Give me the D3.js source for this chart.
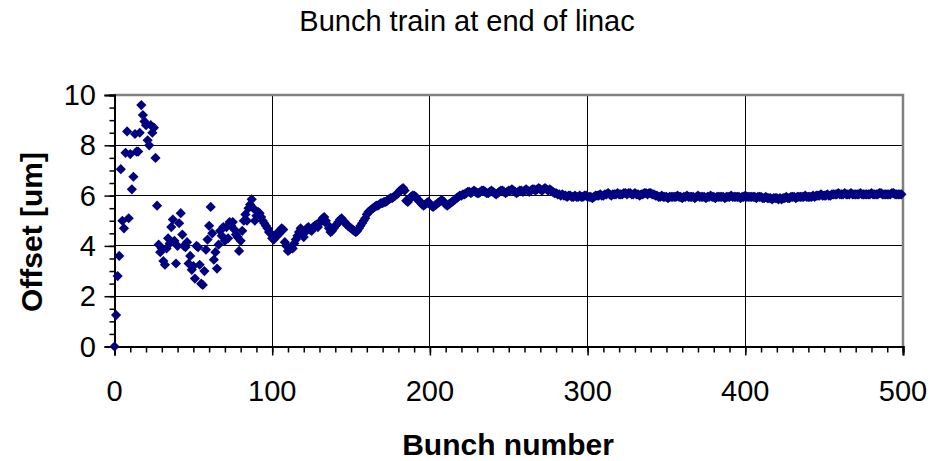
<!DOCTYPE html>
<html>
<head>
<meta charset="utf-8">
<script src="https://cdn.jsdelivr.net/npm/d3@7"></script>
<style>
  html, body { margin: 0; padding: 0; background: #fff; }
  svg { display: block; font-family: "Liberation Sans", Arial, sans-serif; }
</style>
</head>
<body>
<svg id="chart" width="933" height="461"></svg>
<script>
// Offset of each bunch (um), bunch number = array index
const offsets = [
  0, 1.25, 2.8, 3.6, 7.05, 5.0, 4.7, 7.7, 8.55, 5.1,
  7.65, 6.25, 6.75, 8.45, 7.75, 7.75, 8.5, 9.6, 9.2, 8.95,
  8.8, 8.2, 8.0, 8.8, 8.5, 8.7, 7.5, 5.6, 4.05, 3.75,
  3.9, 3.4, 3.25, 3.9, 4.3, 4.1, 4.75, 5.05, 4.2, 3.3,
  4.0, 4.9, 5.3, 4.45, 4.0, 3.95, 4.15, 3.3, 3.6, 3.05,
  3.2, 2.7, 4.0, 3.95, 3.25, 2.5, 2.45, 3.0, 3.85, 4.25,
  4.8, 5.55, 4.5, 3.45, 3.75, 3.1, 4.05, 4.6, 4.4, 4.75,
  4.2, 4.75, 4.3, 4.95, 4.8, 4.95, 4.65, 4.45, 4.35, 3.8,
  4.2, 4.6, 5.0, 5.25, 5.0, 5.5, 5.65, 5.85, 5.5, 5.0,
  5.2, 5.35, 5.3, 5.15, 5.0, 4.9, 4.8, 4.7, 4.55, 4.5,
  4.3, 4.25, 4.35, 4.5, 4.45, 4.6, 4.7, 4.65, 4.15, 4.0,
  3.8, 3.85, 3.95, 3.9, 4.1, 4.25, 4.4, 4.55, 4.7, 4.5,
  4.35, 4.55, 4.7, 4.75, 4.65, 4.6, 4.75, 4.8, 4.85, 4.75,
  4.9, 5.0, 5.1, 5.15, 5.0, 4.85, 4.7, 4.55, 4.6, 4.7,
  4.8, 4.85, 4.95, 5.05, 5.1, 5.0, 4.95, 4.85, 4.8, 4.75,
  4.7, 4.65, 4.6, 4.55, 4.6, 4.7, 4.8, 4.9, 5.0, 5.1,
  5.25, 5.35, 5.4, 5.45, 5.5, 5.55, 5.6, 5.6, 5.65, 5.7,
  5.7, 5.75, 5.75, 5.8, 5.85, 5.9, 5.9, 5.95, 6.0, 6.05,
  6.1, 6.2, 6.25, 6.3, 6.2, 5.8, 5.75, 5.85, 5.95, 6.0,
  6.0, 5.95, 5.85, 5.8, 5.75, 5.65, 5.6, 5.65, 5.7, 5.75,
  5.65, 5.6, 5.55, 5.6, 5.65, 5.7, 5.75, 5.8, 5.8, 5.75,
  5.65, 5.6, 5.65, 5.7, 5.75, 5.8, 5.85, 5.9, 5.95, 6.0,
  6.0, 6.05, 6.05, 6.1, 6.15, 6.15, 6.1, 6.15, 6.2, 6.15,
  6.1, 6.1, 6.15, 6.2, 6.2, 6.15, 6.1, 6.1, 6.15, 6.2,
  6.15, 6.1, 6.05, 6.1, 6.15, 6.2, 6.2, 6.15, 6.1, 6.15,
  6.2, 6.2, 6.25, 6.2, 6.15, 6.1, 6.15, 6.2, 6.2, 6.15,
  6.2, 6.25, 6.2, 6.15, 6.2, 6.25, 6.25, 6.2, 6.25, 6.3,
  6.25, 6.2, 6.25, 6.3, 6.25, 6.2, 6.25, 6.2, 6.15, 6.1,
  6.1, 6.05, 6.05, 6.0, 6.05, 6.0, 6.0, 5.95, 6.0, 6.0,
  5.95, 5.95, 6.0, 5.95, 5.95, 6.0, 5.95, 5.95, 6.0, 6.0,
  5.95, 5.95, 5.95, 5.9, 5.95, 6.0, 6.0, 6.0, 6.05, 6.0,
  6.0, 6.05, 6.05, 6.1, 6.05, 6.0, 6.05, 6.05, 6.05, 6.1,
  6.05, 6.05, 6.05, 6.1, 6.1, 6.05, 6.1, 6.1, 6.05, 6.05,
  6.1, 6.05, 6.05, 6.0, 6.05, 6.05, 6.1, 6.1, 6.05, 6.1,
  6.1, 6.05, 6.05, 6.0, 6.0, 5.95, 5.95, 6.0, 5.95, 5.95,
  5.95, 5.9, 5.95, 5.95, 5.95, 5.95, 5.95, 6.0, 5.95, 5.95,
  5.9, 5.95, 5.95, 6.0, 5.95, 5.95, 5.95, 5.95, 5.9, 5.95,
  6.0, 5.95, 5.95, 5.95, 5.95, 5.9, 5.95, 5.95, 6.0, 5.95,
  5.95, 5.9, 5.95, 5.95, 5.95, 5.95, 5.95, 5.9, 5.95, 5.95,
  5.95, 6.0, 5.95, 5.95, 5.95, 5.95, 5.95, 5.9, 5.95, 5.95,
  6.0, 5.95, 5.95, 5.95, 5.95, 5.95, 5.95, 5.9, 5.95, 5.95,
  5.95, 5.9, 5.9, 5.95, 5.9, 5.9, 5.9, 5.85, 5.9, 5.9,
  5.9, 5.85, 5.9, 5.85, 5.9, 5.9, 5.95, 5.9, 5.9, 5.95,
  5.95, 5.95, 5.9, 5.95, 5.95, 5.95, 5.95, 5.95, 6.0, 5.95,
  5.95, 5.95, 5.95, 6.0, 5.95, 6.0, 6.0, 6.0, 6.05, 6.0,
  6.0, 6.0, 6.05, 6.0, 6.0, 6.05, 6.05, 6.05, 6.05, 6.1,
  6.05, 6.05, 6.05, 6.1, 6.05, 6.05, 6.05, 6.1, 6.05, 6.05,
  6.05, 6.05, 6.05, 6.1, 6.05, 6.05, 6.05, 6.05, 6.05, 6.05,
  6.1, 6.05, 6.05, 6.05, 6.05, 6.1, 6.1, 6.05, 6.05, 6.05,
  6.05, 6.05, 6.05, 6.1, 6.1, 6.05, 6.05, 6.05, 6.05, 6.05
];

const xTicks = [0, 100, 200, 300, 400, 500];
const yTicks = [0, 2, 4, 6, 8, 10];
const titleText = "Bunch train at end of linac";
const xTitle = "Bunch number";
const yTitle = "Offset [um]";

const svg = d3.select("#chart");
const plot = { left: 114.5, right: 903, top: 95, bottom: 346.5 };

const x = d3.scaleLinear().domain([0, 500]).range([plot.left, plot.right]);
const y = d3.scaleLinear().domain([0, 10]).range([plot.bottom, plot.top]);

const navy = "#000080";

// Title
svg.append("text")
  .attr("x", 467).attr("y", 31)
  .attr("text-anchor", "middle")
  .attr("font-size", 29)
  .text(titleText);

// Gridlines
const grid = svg.append("g").attr("shape-rendering", "crispEdges");
grid.selectAll("line.h")
  .data(yTicks.filter(v => v > 0 && v < 10))
  .join("line")
  .attr("x1", plot.left).attr("x2", plot.right)
  .attr("y1", d => y(d)).attr("y2", d => y(d))
  .attr("stroke", "#000").attr("stroke-width", 1);
grid.selectAll("line.v")
  .data(xTicks.filter(v => v > 0 && v < 500))
  .join("line")
  .attr("y1", plot.top).attr("y2", plot.bottom)
  .attr("x1", d => x(d)).attr("x2", d => x(d))
  .attr("stroke", "#000").attr("stroke-width", 1);

// Plot area frame (top and right edges)
svg.append("path")
  .attr("d", `M${plot.left},${plot.top}H${plot.right}V${plot.bottom}`)
  .attr("fill", "none")
  .attr("stroke", "#808080")
  .attr("stroke-width", 2.5);

// Y axis with major and minor ticks
const yAxisG = svg.append("g").attr("transform", `translate(${plot.left},0)`);
yAxisG.call(d3.axisLeft(y).tickValues(d3.range(0, 10.01, 0.5)).tickSize(5).tickFormat(""));
yAxisG.append("g").call(d3.axisLeft(y).tickValues(yTicks).tickSize(10).tickFormat(""));
yAxisG.selectAll("path.domain").attr("stroke", "#000").attr("stroke-width", 2);
yAxisG.selectAll(".tick line").attr("stroke", "#000").attr("stroke-width", 1.5);

// X axis with major and minor ticks
const xAxisG = svg.append("g").attr("transform", `translate(0,${plot.bottom})`);
xAxisG.call(d3.axisBottom(x).tickValues(d3.range(0, 501, 10)).tickSize(6).tickFormat(""));
xAxisG.append("g").call(d3.axisBottom(x).tickValues(xTicks).tickSize(9).tickFormat(""));
xAxisG.selectAll("path.domain").attr("stroke", "#000").attr("stroke-width", 2);
xAxisG.selectAll(".tick line").attr("stroke", "#000").attr("stroke-width", 1.5);

// Tick labels
svg.append("g").selectAll("text")
  .data(yTicks).join("text")
  .attr("x", 96).attr("y", d => y(d) + 10)
  .attr("text-anchor", "end")
  .attr("font-size", 29)
  .text(d => d);
svg.append("g").selectAll("text")
  .data(xTicks).join("text")
  .attr("x", d => x(d)).attr("y", 401)
  .attr("text-anchor", "middle")
  .attr("font-size", 29)
  .text(d => d);

// Axis titles
svg.append("text")
  .attr("transform", `translate(41.5,232) rotate(-90)`)
  .attr("text-anchor", "middle")
  .attr("font-size", 30).attr("font-weight", "bold")
  .text(yTitle);
svg.append("text")
  .attr("x", 508).attr("y", 455)
  .attr("text-anchor", "middle")
  .attr("font-size", 30).attr("font-weight", "bold")
  .text(xTitle);

// Diamond markers
const r = 5.1;
const diamond = `M0,${-r}L${r},0L0,${r}L${-r},0Z`;
svg.append("g").selectAll("path")
  .data(offsets)
  .join("path")
  .attr("d", diamond)
  .attr("transform", (d, i) => `translate(${x(i)},${y(d)})`)
  .attr("fill", navy);
</script>
</body>
</html>
